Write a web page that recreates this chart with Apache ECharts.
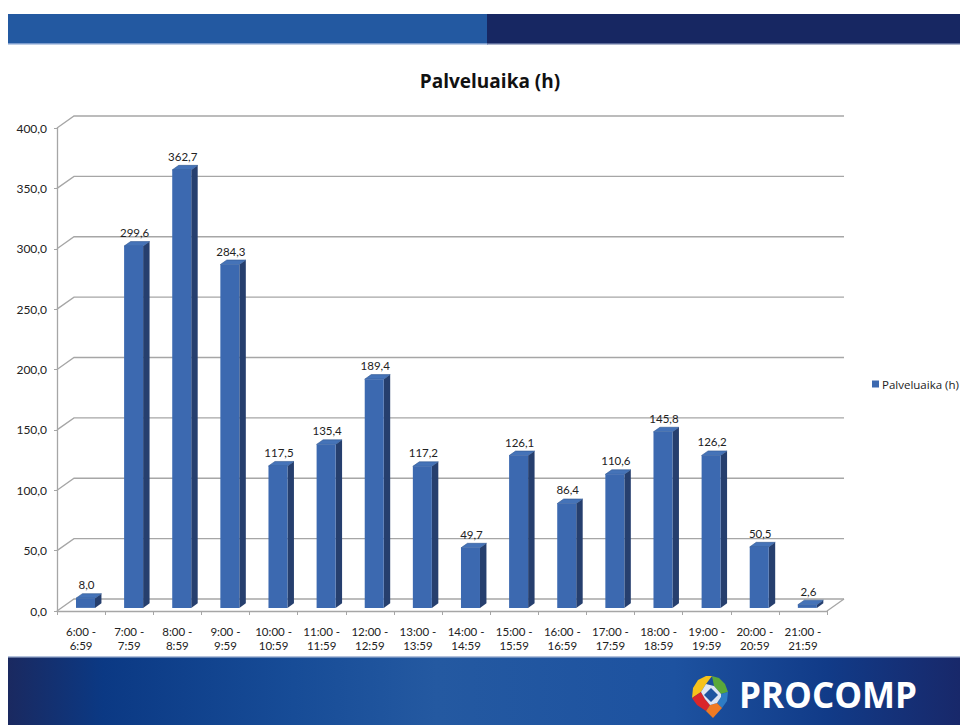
<!DOCTYPE html>
<html>
<head>
<meta charset="utf-8">
<title>Palveluaika (h)</title>
<script src="https://cdn.jsdelivr.net/npm/echarts@6/dist/echarts.min.js"></script>
<style>
  html, body { margin: 0; padding: 0; background: #ffffff; }
  #chart { width: 960px; height: 725px; }
</style>
</head>
<body>
<div id="chart"></div>
<script>
// Hourly time slots (x axis)
const categories = [
  '6:00 -\n6:59', '7:00 -\n7:59', '8:00 -\n8:59', '9:00 -\n9:59',
  '10:00 -\n10:59', '11:00 -\n11:59', '12:00 -\n12:59', '13:00 -\n13:59',
  '14:00 -\n14:59', '15:00 -\n15:59', '16:00 -\n16:59', '17:00 -\n17:59',
  '18:00 -\n18:59', '19:00 -\n19:59', '20:00 -\n20:59', '21:00 -\n21:59'
];
// Service time in hours per slot
const values = [8.0, 299.6, 362.7, 284.3, 117.5, 135.4, 189.4, 117.2, 49.7, 126.1, 86.4, 110.6, 145.8, 126.2, 50.5, 2.6];
// Value axis gridline positions
const yTicks = [0, 50, 100, 150, 200, 250, 300, 350, 400];
const seriesName = 'Palveluaika (h)';

// Depth of the pseudo-3D box (back wall offset)
const DX = 17, DY = -12;
// Bar depth range as fraction of the box depth
const F0 = 0.26, F1 = 0.64;
const BAR_FRACTION = 0.395;
const FRONT = '#3c69b0', SIDE = '#263f6e', TOP = '#4573b8';
const FONT = 'Lato, "Open Sans", sans-serif';

const fmt = v => v.toFixed(1).replace('.', ',');

const chart = echarts.init(document.getElementById('chart'), null, { renderer: 'svg' });

const option = {
  backgroundColor: '#ffffff',
  animation: false,
  title: {
    text: 'Palveluaika (h)',
    left: 485,
    top: 66,
    textAlign: 'center',
    textStyle: { fontFamily: '"Open Sans", sans-serif', fontSize: 19, fontWeight: 'bold', color: '#111' }
  },
  legend: {
    data: [seriesName],
    left: 867,
    top: 373,
    icon: 'rect',
    itemWidth: 7,
    itemHeight: 7,
    itemGap: 4,
    textStyle: { fontFamily: '"Open Sans", sans-serif', fontSize: 11.5, color: '#222', padding: [0, 0, 0, -2] }
  },
  grid: { left: 57, top: 128, right: 133, bottom: 114, containLabel: false },
  xAxis: {
    type: 'category',
    data: categories,
    boundaryGap: true,
    axisLine: { show: true, lineStyle: { color: '#a6a6a6', width: 1.3 } },
    axisTick: { show: true, length: 4, lineStyle: { color: '#a6a6a6' } },
    axisLabel: {
      interval: 0, margin: 13, fontFamily: FONT, fontSize: 11.5, color: '#222', lineHeight: 14
    },
    splitLine: { show: false }
  },
  yAxis: {
    type: 'value',
    min: 0, max: 400, interval: 50,
    axisLine: { show: true, lineStyle: { color: '#a6a6a6', width: 1.3 } },
    axisTick: { show: true, length: 3, lineStyle: { color: '#a6a6a6' } },
    axisLabel: {
      margin: 10, fontFamily: FONT, fontSize: 12, color: '#222',
      formatter: v => fmt(v)
    },
    splitLine: { show: false }
  },
  graphic: [
    // top banner
    { type: 'rect', shape: { x: 8, y: 14, width: 480, height: 30 }, style: { fill: '#2359a1' }, z: -10 },
    { type: 'rect', shape: { x: 487, y: 14, width: 473, height: 30 }, style: { fill: '#172762' }, z: -10 },
    { type: 'rect', shape: { x: 8, y: 43, width: 480, height: 1.5 }, style: { fill: '#7c9ccd' }, z: -9 },
    { type: 'rect', shape: { x: 487, y: 43, width: 473, height: 1.5 }, style: { fill: '#5b6a99' }, z: -9 },
    // bottom banner
    {
      type: 'rect', shape: { x: 8, y: 657, width: 952, height: 68 }, z: -10,
      style: {
        fill: new echarts.graphic.LinearGradient(0, 0, 1, 0, [
          { offset: 0, color: '#1a2960' },
          { offset: 0.1, color: '#0b3984' },
          { offset: 0.3, color: '#174c97' },
          { offset: 0.45, color: '#2459a1' },
          { offset: 0.7, color: '#1d52a0' },
          { offset: 0.86, color: '#113b88' },
          { offset: 1, color: '#18286a' }
        ])
      }
    },
    { type: 'rect', shape: { x: 8, y: 656, width: 952, height: 1.5 }, style: { fill: '#b4c2dc' }, z: -9 },
    // logo mark
    {
      type: 'group', x: 691, y: 675, z: 5,
      children: [
        { type: 'polygon', shape: { points: [[1, 23], [2, 13], [7, 5], [15, 1], [21, 1], [15, 9], [10, 17]] }, style: { fill: '#f6c21a' } },
        { type: 'polygon', shape: { points: [[21, 1], [28, 3], [34, 9], [37, 17], [30, 19], [23, 11]] }, style: { fill: '#5aa83a' } },
        { type: 'polygon', shape: { points: [[37, 17], [36, 26], [31, 33], [26, 28], [30, 22], [30, 19]] }, style: { fill: '#2f7cc4' } },
        { type: 'polygon', shape: { points: [[1, 23], [10, 17], [14, 24], [19, 30], [15, 36], [6, 30]] }, style: { fill: '#d9262a' } },
        { type: 'polygon', shape: { points: [[19, 30], [26, 28], [31, 33], [22, 43], [15, 36]] }, style: { fill: '#ef7a22' } },
        { type: 'polygon', shape: { points: [[15, 9], [23, 11], [30, 19], [30, 22], [26, 28], [19, 30], [14, 24], [10, 17]] }, style: { fill: '#dfe6f2' } },
        { type: 'polygon', shape: { points: [[20, 13], [27, 20], [20, 27], [13, 20]] }, style: { fill: '#1f55a0' } }
      ]
    },
    {
      type: 'text', x: 739, y: 694, z: 5,
      style: {
        text: 'PROCOMP', fill: '#ffffff', fontFamily: '"Open Sans", Lato, sans-serif',
        fontSize: 35, fontWeight: 'bold', verticalAlign: 'middle'
      }
    }
  ],
  series: [
    {
      // back wall gridlines, their left diagonals and the floor edge
      type: 'custom',
      name: 'grid-walls',
      silent: true,
      z: 1,
      clip: false,
      encode: { x: 0, y: 1 },
      data: yTicks.map(v => [0, v]),
      renderItem(params, api) {
        const cs = params.coordSys;
        const y = api.coord([0, api.value(1)])[1];
        const x0 = cs.x, x1 = cs.x + cs.width;
        const stroke = { stroke: '#a6a6a6', lineWidth: 1.3, fill: null };
        const children = [{
          type: 'polyline',
          shape: { points: [[x0, y], [x0 + DX, y + DY], [x1 + DX, y + DY]] },
          style: stroke
        }];
        if (api.value(1) === 0) {
          children.push({
            type: 'line',
            shape: { x1: x1, y1: y, x2: x1 + DX, y2: y + DY },
            style: stroke
          });
        }
        return { type: 'group', children };
      }
    },
    {
      type: 'custom',
      name: seriesName,
      z: 2,
      clip: false,
      itemStyle: { color: FRONT },
      encode: { x: 0, y: 1 },
      data: values.map((v, i) => [i, v]),
      renderItem(params, api) {
        const i = api.value(0), v = api.value(1);
        const base = api.coord([i, 0]);
        const top = api.coord([i, v]);
        const w = api.size([1, 0])[0] * BAR_FRACTION;
        const xl = base[0] - w / 2 + F0 * DX;
        const xr = xl + w;
        const yb = base[1] + F0 * DY;
        const yt = top[1] + F0 * DY;
        const ddx = (F1 - F0) * DX, ddy = (F1 - F0) * DY;
        return {
          type: 'group',
          children: [
            {
              type: 'polygon',
              shape: { points: [[xr, yt], [xr + ddx, yt + ddy], [xr + ddx, yb + ddy], [xr, yb]] },
              style: { fill: SIDE }
            },
            {
              type: 'polygon',
              shape: { points: [[xl, yt], [xr, yt], [xr + ddx, yt + ddy], [xl + ddx, yt + ddy]] },
              style: { fill: TOP, stroke: '#2f568f', lineWidth: 0.6 }
            },
            {
              type: 'rect',
              shape: { x: xl, y: yt, width: w, height: yb - yt },
              style: { fill: FRONT }
            },
            {
              type: 'text',
              x: xl + w / 2 + 1,
              y: yt + ddy - 3,
              style: {
                text: fmt(v), fill: '#222', fontFamily: FONT, fontSize: 11.5,
                align: 'center', verticalAlign: 'bottom'
              }
            }
          ]
        };
      }
    }
  ]
};

chart.setOption(option);
</script>
</body>
</html>
